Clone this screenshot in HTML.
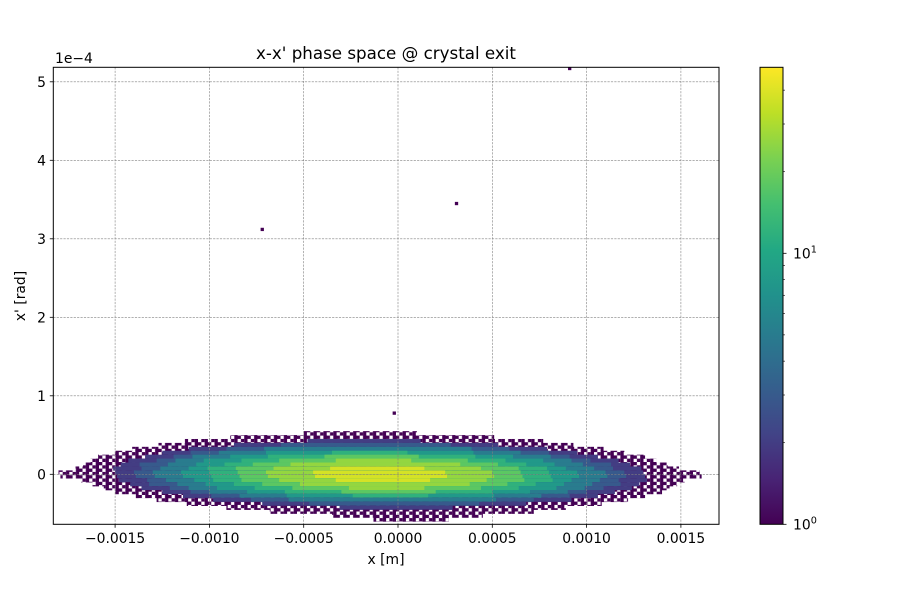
<!DOCTYPE html>
<html><head><meta charset="utf-8"><style>
body{margin:0;background:#fff}
svg{display:block}
text{font-family:"DejaVu Sans","Liberation Sans",sans-serif;fill:#000}
</style></head><body>
<svg id="chart" width="900" height="600" viewBox="0 0 900 600">
<defs>
<linearGradient id="vir" x1="0" y1="1" x2="0" y2="0">
<stop offset="0" stop-color="#440154"/><stop offset="0.1" stop-color="#482475"/><stop offset="0.2" stop-color="#414487"/><stop offset="0.3" stop-color="#355f8d"/><stop offset="0.4" stop-color="#2a788e"/><stop offset="0.5" stop-color="#21918c"/><stop offset="0.6" stop-color="#22a884"/><stop offset="0.7" stop-color="#44bf70"/><stop offset="0.8" stop-color="#7ad151"/><stop offset="0.9" stop-color="#bddf26"/><stop offset="1" stop-color="#fde725"/>
</linearGradient>
<pattern id="speckle" x="0" y="0" width="9.9" height="6.6" patternUnits="userSpaceOnUse">
<rect x="0" y="0" width="3.3" height="3.3" fill="#440154"/><rect x="6.6" y="0" width="3.3" height="3.3" fill="#440154"/>
<rect x="3.3" y="3.3" width="3.3" height="3.3" fill="#440154"/><rect x="6.6" y="3.3" width="3.3" height="3.3" fill="#440154"/>
</pattern>
<clipPath id="plotclip"><rect x="53.3" y="67.3" width="665.7" height="457"/></clipPath>
</defs>
<g id="hist" clip-path="url(#plotclip)"></g>
<g id="grid"></g>
<rect x="53.3" y="67.3" width="665.7" height="457" fill="none" stroke="#000" stroke-width="1"/>
<g id="xticks"></g>
<g id="yticks"></g>
<text x="55" y="63" font-size="13.9">1e−4</text>
<text x="386" y="59" font-size="16.7" text-anchor="middle">x-x' phase space @ crystal exit</text>
<text x="386" y="564" font-size="13.9" text-anchor="middle">x [m]</text>
<text x="0" y="0" font-size="13.9" text-anchor="middle" transform="translate(25,296) rotate(-90)">x' [rad]</text>
<rect x="760" y="67.3" width="23" height="457" fill="url(#vir)" stroke="#000" stroke-width="1"/>
<g id="cbticks"></g>
</svg>
<script>
// ---- data ----
const xTicks = [-0.0015, -0.0010, -0.0005, 0.0000, 0.0005, 0.0010, 0.0015];
const xTickLabels = ["−0.0015","−0.0010","−0.0005","0.0000","0.0005","0.0010","0.0015"];
const yTicks = [0, 1, 2, 3, 4, 5];
const yTickLabels = ["0","1","2","3","4","5"];
const levelCounts = [1, 2, 3, 5, 8, 12, 18, 26, 38];
const rowY = [0.525,0.475,0.425,0.375,0.325,0.275,0.225,0.175,0.125,0.075,0.025,-0.025,-0.075,-0.125,-0.175,-0.225,-0.275,-0.325,-0.375,-0.425,-0.475,-0.525,-0.575];
const rowCenter = [-2.0,-1.9,-1.8,-1.7,-1.6,-1.5,-1.4,-1.3,-1.2,-1.1,-1.0,-0.9,-0.8,-0.7,-0.6,-0.5,-0.4,-0.3,-0.2,-0.1,0.2,0.5,0.7];
const rowHalfWidths = [
 [3],[7],[9.5,3],[11,7,4.5],[12.5,9.5,7.5,5.5],[13.5,11,9.5,8,5.5,2],[14.5,12,10.5,9.5,7.5,5.5,2.5],
 [15,13,11.5,10.5,9,7,5,2],[15.5,13.5,12.5,11,9.5,8,6.5,4.5],[16,14,12.5,11.5,10,9,7.5,5.5,2.5],
 [17,14,13,12,10.5,9,7.5,6,3.5],[17,14,13,12,10.5,9,7.5,6,3.5],[16,14,12.5,11.5,10,9,7.5,5.5,2.5],
 [15.5,13.5,12.5,11,9.5,8,6.5,4.5],[15,13,11.5,10.5,9,7,5,2],[14.5,12,10.5,9.5,7.5,5.5,2.5],
 [13.5,11,9.5,8,5.5,2],[12.5,9.5,7.5,5.5],[11,7,4.5],[9,3],[7],[4],[2]
];
const outlierX = [0.00091, 0.00031, -0.00072, -0.00002];
const outlierY = [5.17, 3.45, 3.12, 0.78];
const cbMajor = [1, 10];
const cbMinor = [2,3,4,5,6,7,8,9,20,30,40];
const cbMax = 48.6;
// ---- scales ----
const NS = 'http://www.w3.org/2000/svg';
const X = x => 398 + x * 188600;
const Y = y => 474.3 - 78.5 * y;
const CB = c => 524.3 - 271 * Math.log10(c);
const stops = ["#440154","#482475","#414487","#355f8d","#2a788e","#21918c","#22a884","#44bf70","#7ad151","#bddf26","#fde725"];
function hex(h){return [1,3,5].map(i=>parseInt(h.substr(i,2),16));}
function viridis(t){t=Math.max(0,Math.min(1,t));const p=t*10,i=Math.min(9,Math.floor(p)),f=p-i;const a=hex(stops[i]),b=hex(stops[i+1]);return 'rgb('+a.map((v,k)=>Math.round(v+(b[k]-v)*f)).join(',')+')';}
const colorOf = c => viridis(Math.log10(c)/Math.log10(cbMax));
function mk(tag, attrs, parent){const e=document.createElementNS(NS,tag);for(const k in attrs)e.setAttribute(k,attrs[k]);parent.appendChild(e);return e;}
const hist = document.getElementById('hist');
rowY.forEach((y, r) => {
  rowHalfWidths[r].forEach((hw, k) => {
    const x0 = X((rowCenter[r] - hw) * 1e-4), x1 = X((rowCenter[r] + hw) * 1e-4);
    const fill = k === 0 ? 'url(#speckle)' : colorOf(levelCounts[k]);
    const e = mk('rect', {x:x0, y:Y(y+0.025), width:x1-x0, height:Y(y-0.025)-Y(y+0.025)+0.3, fill:fill}, hist);
    
    
  });
});
outlierX.forEach((x, i) => {
  const e = mk('rect', {x:X(x)-1.6, y:Y(outlierY[i])-1.6, width:3.3, height:3.3, fill:colorOf(1)}, hist);
  
  
});
const grid = document.getElementById('grid'), xt = document.getElementById('xticks'), yt = document.getElementById('yticks');
xTicks.forEach((v, i) => {
  const px = X(v);
  const g = mk('line', {x1:px, x2:px, y1:67.3, y2:524.3, stroke:'#808080', 'stroke-width':0.6, 'stroke-dasharray':'2.2,1.2'}, grid);
  
  
  mk('line', {x1:px, x2:px, y1:524.3, y2:527.8, stroke:'#000', 'stroke-width':0.8}, xt);
  const t = mk('text', {x:px, y:543, 'font-size':13.9, 'text-anchor':'middle'}, xt);
  t.textContent = xTickLabels[i];
  
  
});
yTicks.forEach((v, i) => {
  const py = Y(v);
  const g = mk('line', {x1:53.3, x2:719, y1:py, y2:py, stroke:'#808080', 'stroke-width':0.6, 'stroke-dasharray':'2.2,1.2'}, grid);
  
  
  mk('line', {x1:49.8, x2:53.3, y1:py, y2:py, stroke:'#000', 'stroke-width':0.8}, yt);
  const t = mk('text', {x:46, y:py+5, 'font-size':13.9, 'text-anchor':'end'}, yt);
  t.textContent = yTickLabels[i];
  
  
});
const cb = document.getElementById('cbticks');
cbMinor.forEach(v => { mk('line', {x1:783, x2:785, y1:CB(v), y2:CB(v), stroke:'#000', 'stroke-width':0.6}, cb); });
cbMajor.forEach((v, i) => {
  mk('line', {x1:783, x2:786.5, y1:CB(v), y2:CB(v), stroke:'#000', 'stroke-width':0.8}, cb);
  const t = mk('text', {x:793, y:CB(v)+5, 'font-size':13.9}, cb);
  t.textContent = '10';
  const s = mk('tspan', {dy:-6, 'font-size':9.7}, t);
  s.textContent = String(Math.round(Math.log10(v)));
  
  
});
</script>
</body></html>
